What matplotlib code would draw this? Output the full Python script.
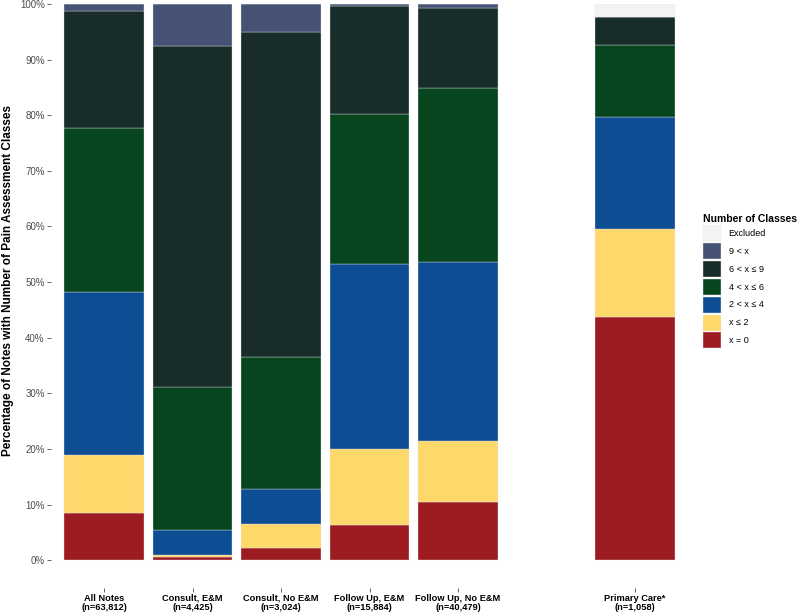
import numpy as np
import matplotlib.pyplot as plt
from matplotlib.patches import Patch
from matplotlib.ticker import FuncFormatter

plt.rcParams['font.family'] = ['Liberation Sans', 'DejaVu Sans']

groups = ['All Notes\n(n=63,812)', 'Consult, E&M\n(n=4,425)', 'Consult, No E&M\n(n=3,024)',
          'Follow Up, E&M\n(n=15,884)', 'Follow Up, No E&M\n(n=40,479)', 'Primary Care*\n(n=1,058)']
positions = [1, 2, 3, 4, 5, 7]

classes = ['x = 0', 'x \u2264 2', '2 < x \u2264 4', '4 < x \u2264 6', '6 < x \u2264 9', '9 < x', 'Excluded']
colors = ['#9d1c21', '#fed86b', '#0d4d93', '#07451f', '#182d29', '#465274', '#f3f3f6']

# percent of notes in each class, per group (bottom to top)
x_eq_0 = [8.5, 0.6, 2.2, 6.3, 10.4, 43.7]
x_le_2 = [10.5, 0.4, 4.3, 13.7, 11.0, 15.8]
x_2_4 = [29.2, 4.4, 6.3, 33.2, 32.2, 20.2]
x_4_6 = [29.5, 25.7, 23.7, 27.0, 31.3, 12.9]
x_6_9 = [21.0, 61.3, 58.5, 19.4, 14.4, 5.1]
x_gt_9 = [1.3, 7.6, 5.0, 0.4, 0.7, 0.0]
excluded = [0.0, 0.0, 0.0, 0.0, 0.0, 2.3]

series = [x_eq_0, x_le_2, x_2_4, x_4_6, x_6_9, x_gt_9, excluded]

fig = plt.figure(figsize=(8, 6.12), dpi=100)
# panel runs below 0% (ggplot style expansion), top is cut at 100%
ax = fig.add_axes([51 / 800, 1 - 588 / 612, 637 / 800, 584 / 612])

bottom = np.zeros(len(groups))
for vals, c in zip(series, colors):
    vals = np.array(vals)
    ax.bar(positions, vals, bottom=bottom, width=0.9, color=c,
           edgecolor='#e8e8ec', linewidth=0.25)
    bottom += vals

ax.set_xlim(0.4, 7.6)
ax.set_ylim(-5, 100)
ax.set_xticks(positions)
ax.set_xticklabels(groups, fontsize=6.7, fontweight='bold', linespacing=1.0)
ax.set_yticks(np.arange(0, 101, 10))
ax.yaxis.set_major_formatter(FuncFormatter(lambda v, p: f'{v:.0f}%'))
ax.tick_params(axis='y', labelsize=7, colors='#4d4d4d', length=3, width=0.6, pad=1.5)
ax.tick_params(axis='x', length=3, width=0.6, colors='#4d4d4d', pad=1)
for lab in ax.get_xticklabels():
    lab.set_color('black')
for s in ax.spines.values():
    s.set_visible(False)

ax.set_ylabel('Percentage of Notes with Number of Pain Assessment Classes',
              fontsize=8.5, fontweight='bold')
ax.yaxis.set_label_coords(-0.058, 0.526)

handles = [Patch(facecolor=c, edgecolor='#e8e8ec', linewidth=0.3, label=l)
           for l, c in zip(classes[::-1], colors[::-1])]
leg = fig.legend(handles=handles, loc='center left', bbox_to_anchor=(0.869, 1 - 281 / 612),
                 frameon=False, fontsize=6.5, title='Number of Classes',
                 title_fontproperties={'weight': 'bold', 'size': 7.5},
                 handlelength=2.0, handleheight=2.35, labelspacing=0.2,
                 handletextpad=0.8, alignment='left')

fig.savefig('out.png', dpi=100)
